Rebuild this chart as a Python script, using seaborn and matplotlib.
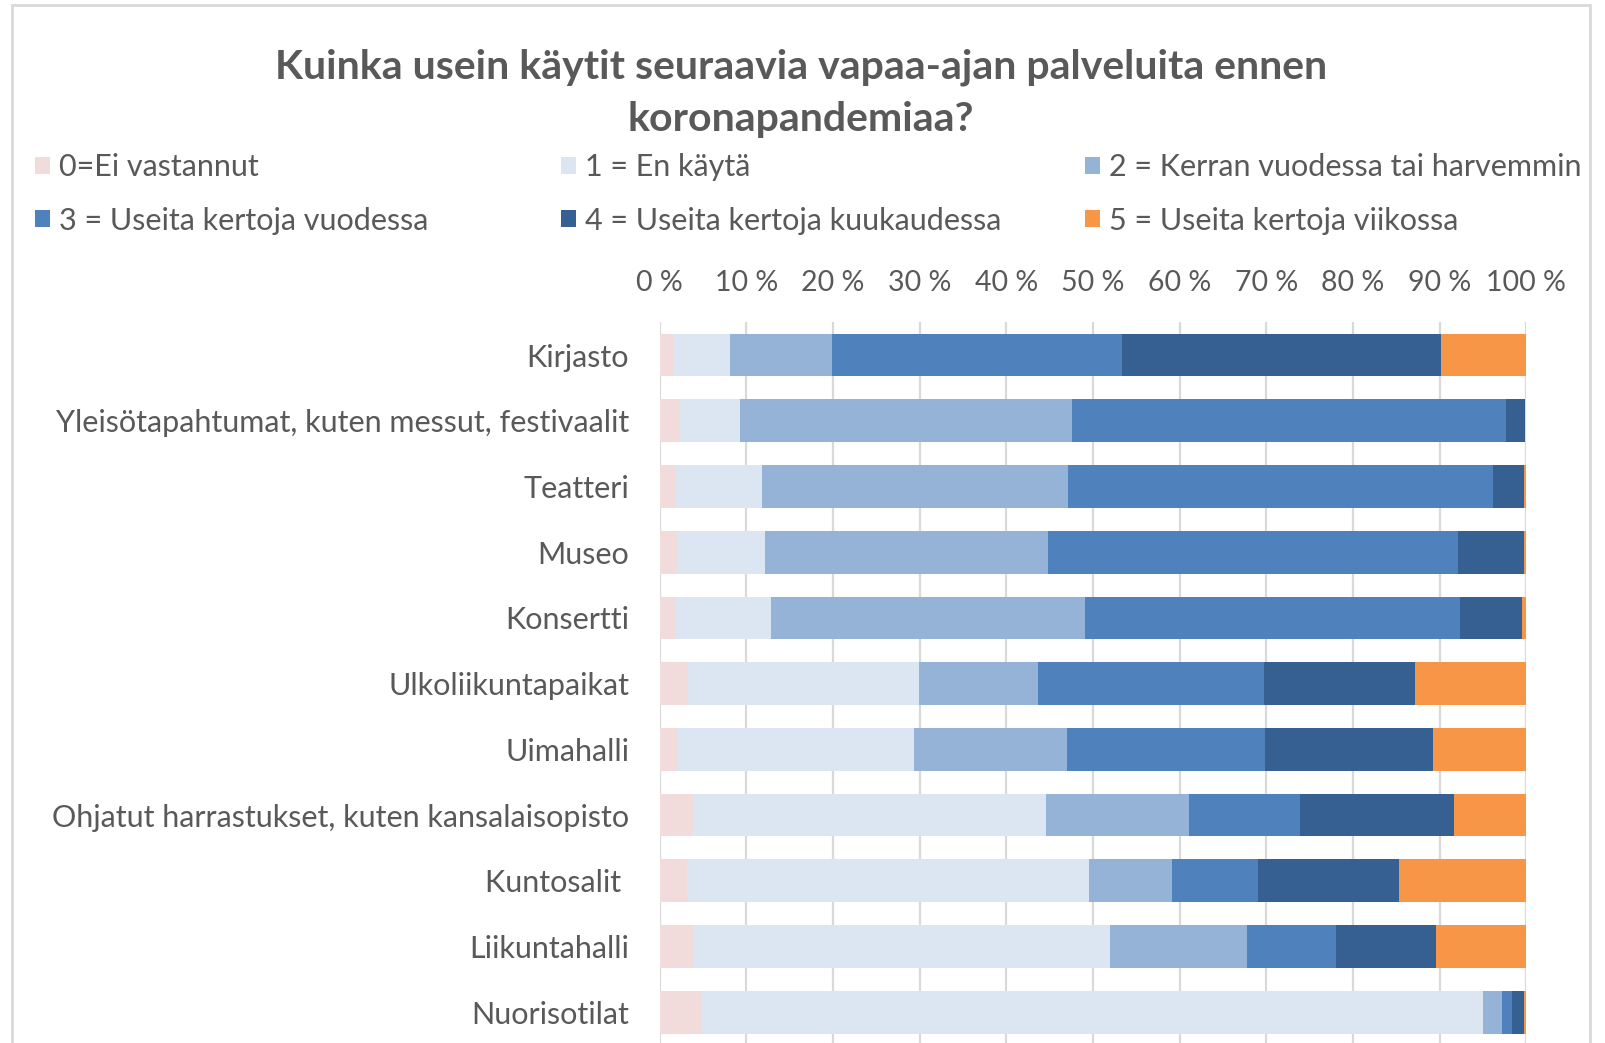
import numpy as np
import pandas as pd
import matplotlib
matplotlib.use("Agg")
import matplotlib.pyplot as plt
import seaborn as sns
from matplotlib.patches import Rectangle

# Categories (top to bottom) and the share (%) of each answer
categories = [
    "Kirjasto",
    "Yleisötapahtumat, kuten messut, festivaalit",
    "Teatteri",
    "Museo",
    "Konsertti",
    "Ulkoliikuntapaikat",
    "Uimahalli",
    "Ohjatut harrastukset, kuten kansalaisopisto",
    "Kuntosalit ",
    "Liikuntahalli",
    "Nuorisotilat",
]
ei_vastannut = [1.6, 2.4, 1.9, 2.0, 1.9, 3.3, 2.1, 3.8, 3.1, 3.8, 4.9]
en_kayta = [6.5, 6.9, 9.9, 10.2, 10.9, 26.6, 27.3, 40.8, 46.4, 48.2, 90.1]
kerran_vuodessa = [11.8, 38.3, 35.3, 32.6, 36.3, 13.8, 17.6, 16.5, 9.6, 15.8, 2.2]
useita_vuodessa = [33.5, 50.1, 49.1, 47.3, 43.3, 26.0, 22.9, 12.8, 9.9, 10.2, 1.2]
useita_kuukaudessa = [36.7, 2.1, 3.5, 7.6, 7.1, 17.4, 19.3, 17.7, 16.3, 11.6, 1.3]
useita_viikossa = [9.9, 0.1, 0.3, 0.3, 0.5, 12.9, 10.8, 8.4, 14.7, 10.4, 0.3]

series_labels = [
    "0=Ei vastannut",
    "1 = En käytä",
    "2 = Kerran vuodessa tai harvemmin",
    "3 = Useita kertoja vuodessa",
    "4 = Useita kertoja kuukaudessa",
    "5 = Useita kertoja viikossa",
]
colors = ["#F2DCDB", "#DCE6F2", "#95B3D7", "#4F81BD", "#366092", "#F79646"]
ticks = list(range(0, 101, 10))
tick_labels = [f"{t} %" for t in ticks]

TEXT = "#595959"

df = pd.DataFrame(
    {
        series_labels[0]: ei_vastannut,
        series_labels[1]: en_kayta,
        series_labels[2]: kerran_vuodessa,
        series_labels[3]: useita_vuodessa,
        series_labels[4]: useita_kuukaudessa,
        series_labels[5]: useita_viikossa,
    },
    index=categories,
)
cum = df.cumsum(axis=1)

sns.set_theme(style="white")
plt.rcParams["font.family"] = ["Lato", "DejaVu Sans"]

fig = plt.figure(figsize=(16.05, 10.43), dpi=100)
ax = fig.add_axes([0.411, -0.002, 0.54, 0.693])

# stacked bars: draw cumulative totals from the largest down
for i in reversed(range(len(series_labels))):
    sns.barplot(
        x=cum[series_labels[i]].values,
        y=categories,
        order=categories,
        orient="h",
        color=colors[i],
        saturation=1,
        width=0.65,
        linewidth=0,
        label=series_labels[i],
        ax=ax,
    )

ax.set_xlim(0, 100)
ax.xaxis.tick_top()
ax.set_xticks(ticks)
ax.set_xticklabels(tick_labels)
ax.grid(axis="x", color="#D9D9D9", linewidth=1.6)
ax.set_axisbelow(True)
for s in ax.spines.values():
    s.set_visible(False)
ax.tick_params(axis="x", length=0, pad=19, labelsize=20.5, labelcolor=TEXT)
ax.tick_params(axis="y", length=0, pad=22, labelsize=22, labelcolor=TEXT)
ax.set_xlabel("")
ax.set_ylabel("")
if ax.get_legend():
    ax.get_legend().remove()

fig.text(0.499, 0.911,
         "Kuinka usein käytit seuraavia vapaa-ajan palveluita ennen\nkoronapandemiaa?",
         ha="center", va="center", fontsize=29.5, fontweight="bold",
         color=TEXT, linespacing=1.5)

# legend, three columns of two rows
handles, labels = ax.get_legend_handles_labels()
by_label = dict(zip(labels, handles))
col_x = [0.0218, 0.3495, 0.676]
for c in range(3):
    names = [series_labels[c], series_labels[c + 3]]
    fig.legend([by_label[n] for n in names], names,
               loc="upper left", bbox_to_anchor=(col_x[c], 0.853),
               frameon=False, fontsize=22, labelcolor=TEXT,
               handlelength=0.48, handleheight=0.48, handletextpad=0.32,
               labelspacing=0.83, borderpad=0, borderaxespad=0)

# light chart border
fig.add_artist(Rectangle((12 / 1605, -0.05), (1590 - 12) / 1605, 1.045,
                         transform=fig.transFigure, fill=False,
                         edgecolor="#D9D9D9", linewidth=2))

fig.savefig("out.png", dpi=100, facecolor="white")
